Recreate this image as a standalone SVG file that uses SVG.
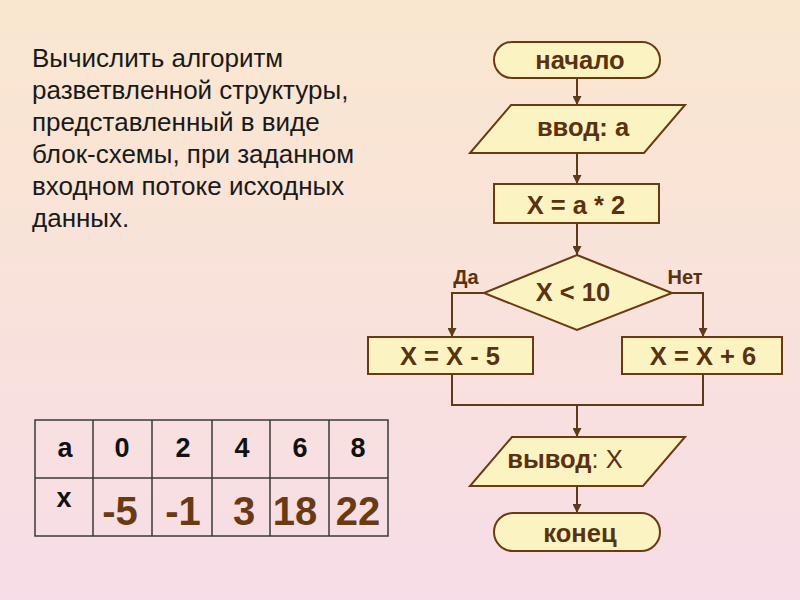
<svg xmlns="http://www.w3.org/2000/svg" width="800" height="600" viewBox="0 0 800 600">
<defs>
<linearGradient id="bg" x1="0" y1="0" x2="0" y2="1">
<stop offset="0" stop-color="#FAE7CF"/>
<stop offset="1" stop-color="#F7DDE7"/>
</linearGradient>
<marker id="ah" viewBox="0 0 10 10" refX="10" refY="5" markerWidth="9" markerHeight="9" markerUnits="userSpaceOnUse" orient="auto">
<path d="M0,0 L10,5 L0,10 z" fill="#5C3A1A"/>
</marker>
<style>
.node{fill:#FBF4C2;stroke:#6B3A14;stroke-width:2}
.lbl{font-family:"Liberation Sans",Arial,sans-serif;font-weight:bold;font-size:25.5px;fill:#5A3210;text-anchor:middle}
.yn{font-family:"Liberation Sans",Arial,sans-serif;font-weight:bold;font-size:20px;fill:#5A3210;text-anchor:middle}
.conn{fill:none;stroke:#5C3A1A;stroke-width:2}
.desc{font-family:"Liberation Sans",Arial,sans-serif;font-size:26px;fill:#1A1A1A}
.grid{fill:none;stroke:#3A3A3A;stroke-width:1.5}
.h{font-family:"Liberation Sans",Arial,sans-serif;font-weight:bold;font-size:27px;fill:#111;text-anchor:middle}
.v{font-family:"Liberation Sans",Arial,sans-serif;font-weight:bold;font-size:40px;fill:#6A3A12;text-anchor:middle}
</style>
</defs>
<rect width="800" height="600" fill="url(#bg)"/>

<g id="description">
<text class="desc" x="32" y="67">Вычислить алгоритм</text>
<text class="desc" x="32" y="99">разветвленной структуры,</text>
<text class="desc" x="32" y="131">представленный в виде</text>
<text class="desc" x="32" y="163">блок-схемы, при заданном</text>
<text class="desc" x="32" y="195">входном потоке исходных</text>
<text class="desc" x="32" y="227">данных.</text>
</g>

<g id="table">
<rect class="grid" x="35" y="420" width="353" height="116"/>
<line class="grid" x1="35" y1="478" x2="388" y2="478"/>
<line class="grid" x1="93" y1="420" x2="93" y2="536"/>
<line class="grid" x1="152" y1="420" x2="152" y2="536"/>
<line class="grid" x1="212" y1="420" x2="212" y2="536"/>
<line class="grid" x1="270" y1="420" x2="270" y2="536"/>
<line class="grid" x1="329" y1="420" x2="329" y2="536"/>
<text class="h" x="65" y="457">a</text>
<text class="h" x="122" y="457">0</text>
<text class="h" x="183" y="457">2</text>
<text class="h" x="242" y="457">4</text>
<text class="h" x="300" y="457">6</text>
<text class="h" x="358" y="457">8</text>
<text class="h" x="64" y="507">x</text>
<text class="v" x="120" y="525">-5</text>
<text class="v" x="183" y="525">-1</text>
<text class="v" x="244" y="525">3</text>
<text class="v" x="295" y="525">18</text>
<text class="v" x="358" y="525">22</text>
</g>

<g id="connectors">
<line class="conn" x1="577" y1="78" x2="577" y2="105" marker-end="url(#ah)"/>
<line class="conn" x1="577" y1="153" x2="577" y2="184" marker-end="url(#ah)"/>
<line class="conn" x1="577" y1="223" x2="577" y2="255" marker-end="url(#ah)"/>
<polyline class="conn" points="484,293 452,293 452,337" marker-end="url(#ah)"/>
<polyline class="conn" points="672,293 703,293 703,337" marker-end="url(#ah)"/>
<polyline class="conn" points="452,374 452,405 703,405 703,374"/>
<line class="conn" x1="577" y1="405" x2="577" y2="437" marker-end="url(#ah)"/>
<line class="conn" x1="577" y1="486" x2="577" y2="513" marker-end="url(#ah)"/>
</g>

<g id="start">
<rect class="node" x="494" y="42" width="166" height="36" rx="18" ry="18"/>
<text class="lbl" x="580" y="69">начало</text>
</g>
<g id="input">
<polygon class="node" points="511,105 685,105 644,153 470,153"/>
<text class="lbl" x="583" y="136">ввод: a</text>
</g>
<g id="assign">
<rect class="node" x="494" y="184" width="165" height="39"/>
<text class="lbl" x="576" y="214">X = a * 2</text>
</g>
<g id="decision">
<polygon class="node" points="577,255 672,293 577,330 484,293"/>
<text class="lbl" x="573" y="301">X &lt; 10</text>
<text class="yn" x="466" y="284">Да</text>
<text class="yn" x="685" y="284">Нет</text>
</g>
<g id="minus">
<rect class="node" x="368" y="337" width="165" height="37"/>
<text class="lbl" x="450" y="365">X = X - 5</text>
</g>
<g id="plus">
<rect class="node" x="622" y="337" width="160" height="37"/>
<text class="lbl" x="703" y="365">X = X + 6</text>
</g>
<g id="output">
<polygon class="node" points="512,437 685,437 643,486 470,486"/>
<text class="lbl" x="565" y="468">вывод<tspan font-weight="normal">: X</tspan></text>
</g>
<g id="end">
<rect class="node" x="494" y="513" width="166" height="38" rx="19" ry="19"/>
<text class="lbl" x="580" y="542">конец</text>
</g>
</svg>
